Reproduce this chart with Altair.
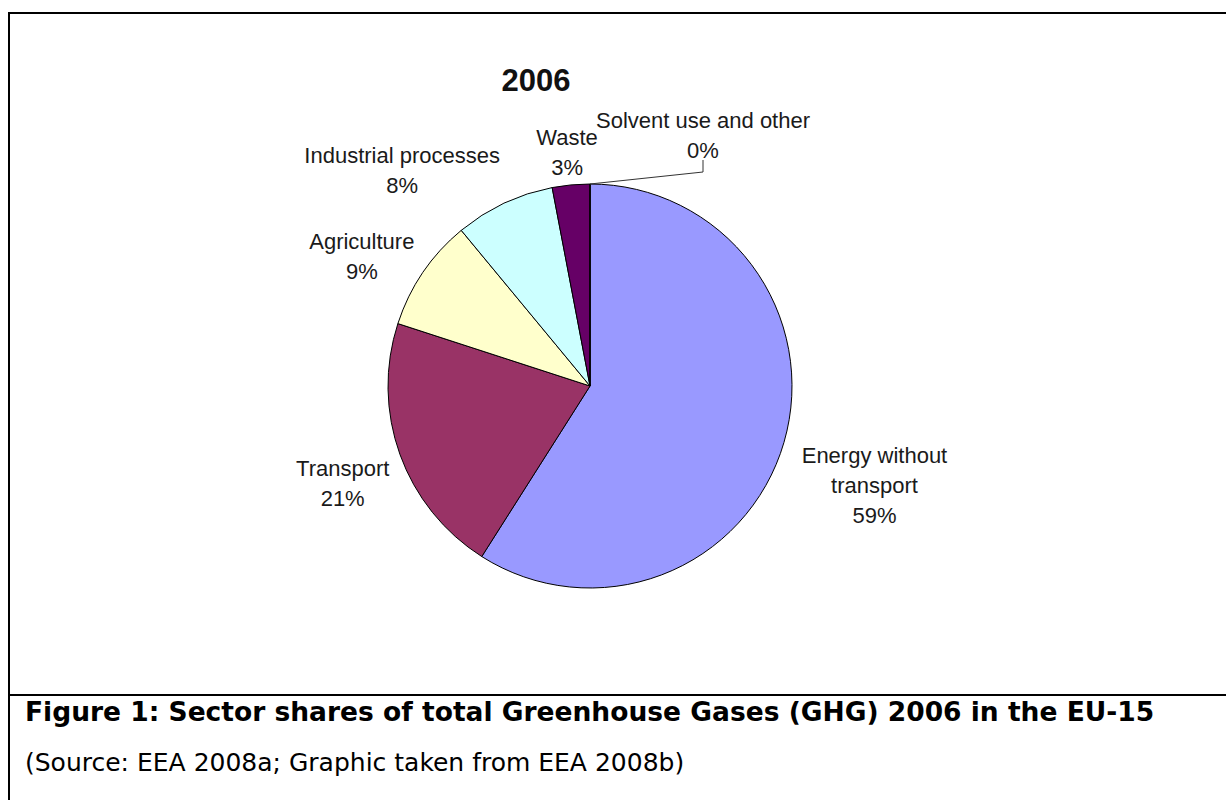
import altair as alt
import math
import pandas as pd

# ---- data -------------------------------------------------------------
sectors = [
    "Energy without transport",
    "Transport",
    "Agriculture",
    "Industrial processes",
    "Waste",
    "Solvent use and other",
]
shares = [59, 21, 9, 8, 3, 0]
label_lines = [
    ["Energy without", "transport"],
    ["Transport"],
    ["Agriculture"],
    ["Industrial processes"],
    ["Waste"],
    ["Solvent use and other"],
]
colors = ["#9999FF", "#993366", "#FFFFCC", "#CCFFFF", "#660066", "#FF8080"]

chart_title = "2006"
caption = "Figure 1: Sector shares of total Greenhouse Gases (GHG) 2006 in the EU-15"
source_note = "(Source: EEA 2008a; Graphic taken from EEA 2008b)"

# ---- layout -----------------------------------------------------------
W, H = 1226, 800
CX, CY, R = 590, 386, 202
LABEL_R = 265
LABEL_FONT = "Liberation Sans, Arial, sans-serif"
CAPTION_FONT = "DejaVu Sans, Verdana, sans-serif"

# per-label nudges (dx, dy) away from the slice mid-angle anchor
nudges = [(30, -4), (2, -7), (-9, 5), (-75, 10), (2, 16), (113, 0)]

df = pd.DataFrame({
    "idx": list(range(len(sectors))),
    "sector": sectors,
    "share": shares,
    "label": ["\n".join(lines + [f"{v}%"]) for lines, v in zip(label_lines, shares)],
})

base = alt.Chart(df).encode(
    theta=alt.Theta("share:Q", stack=True),
    order=alt.Order("idx:Q", sort="ascending"),
    x=alt.value(CX),
    y=alt.value(CY),
)

pie = base.mark_arc(radius=R, stroke="#000000", strokeWidth=1).encode(
    color=alt.Color(
        "sector:N",
        scale=alt.Scale(domain=sectors, range=colors),
        legend=None,
    )
)

label_layers = []
for i, (dx, dy) in enumerate(nudges):
    label_layers.append(
        base.transform_calculate(
            shown=f"datum.idx === {i} ? datum.label : ''"
        ).mark_text(
            radius=LABEL_R,
            dx=dx,
            dy=dy,
            lineBreak="\n",
            lineHeight=30,
            font=LABEL_FONT,
            fontSize=22,
            align="center",
            baseline="middle",
            color="#1a1a1a",
        ).encode(text="shown:N")
    )

# leader line from the (empty) solvent slice to its label
total = sum(shares)
cum = sum(shares)  # solvent is the last slice
mid = 2 * math.pi * (cum - shares[-1] / 2) / total
rim_x = CX + R * math.sin(mid)
rim_y = CY - R * math.cos(mid)
lbl_x = CX + LABEL_R * math.sin(mid) + nudges[-1][0]
leader_df = pd.DataFrame({
    "step": [0, 1, 2],
    "px": [rim_x, lbl_x, lbl_x],
    "py": [rim_y, rim_y - 12, rim_y - 24],
})
leader = alt.Chart(leader_df).mark_line(color="#333333", strokeWidth=1).encode(
    x=alt.X("px:Q", scale=None, axis=None),
    y=alt.Y("py:Q", scale=None, axis=None),
    order="step:Q",
)

one = pd.DataFrame({"k": [0]})

frame_top = alt.Chart(one).mark_rule(color="black", strokeWidth=2).encode(
    x=alt.value(8), x2=alt.value(W), y=alt.value(13)
)
frame_left = alt.Chart(one).mark_rule(color="black", strokeWidth=2).encode(
    x=alt.value(9), y=alt.value(12), y2=alt.value(H)
)
divider = alt.Chart(one).mark_rule(color="black", strokeWidth=2).encode(
    x=alt.value(8), x2=alt.value(W), y=alt.value(695)
)

title = alt.Chart(pd.DataFrame({"t": [chart_title]})).mark_text(
    font=LABEL_FONT, fontSize=31, fontWeight="bold", align="center",
    baseline="alphabetic", color="#111111",
).encode(x=alt.value(536), y=alt.value(91), text="t:N")

caption_text = alt.Chart(pd.DataFrame({"t": [caption]})).mark_text(
    font=CAPTION_FONT, fontSize=26.5, fontWeight="bold", align="left",
    baseline="alphabetic", color="#000000",
).encode(x=alt.value(25), y=alt.value(721), text="t:N")

source_text = alt.Chart(pd.DataFrame({"t": [source_note]})).mark_text(
    font=CAPTION_FONT, fontSize=25, align="left",
    baseline="alphabetic", color="#000000",
).encode(x=alt.value(25), y=alt.value(771), text="t:N")

chart = alt.layer(
    pie, *label_layers, leader, frame_top, frame_left, divider,
    title, caption_text, source_text,
).properties(
    width=W,
    height=H,
    padding=0,
    autosize=alt.AutoSizeParams(type="none"),
    background="white",
).configure_view(stroke=None)

chart.save("out.html", embed_options={"renderer": "svg", "actions": False})
